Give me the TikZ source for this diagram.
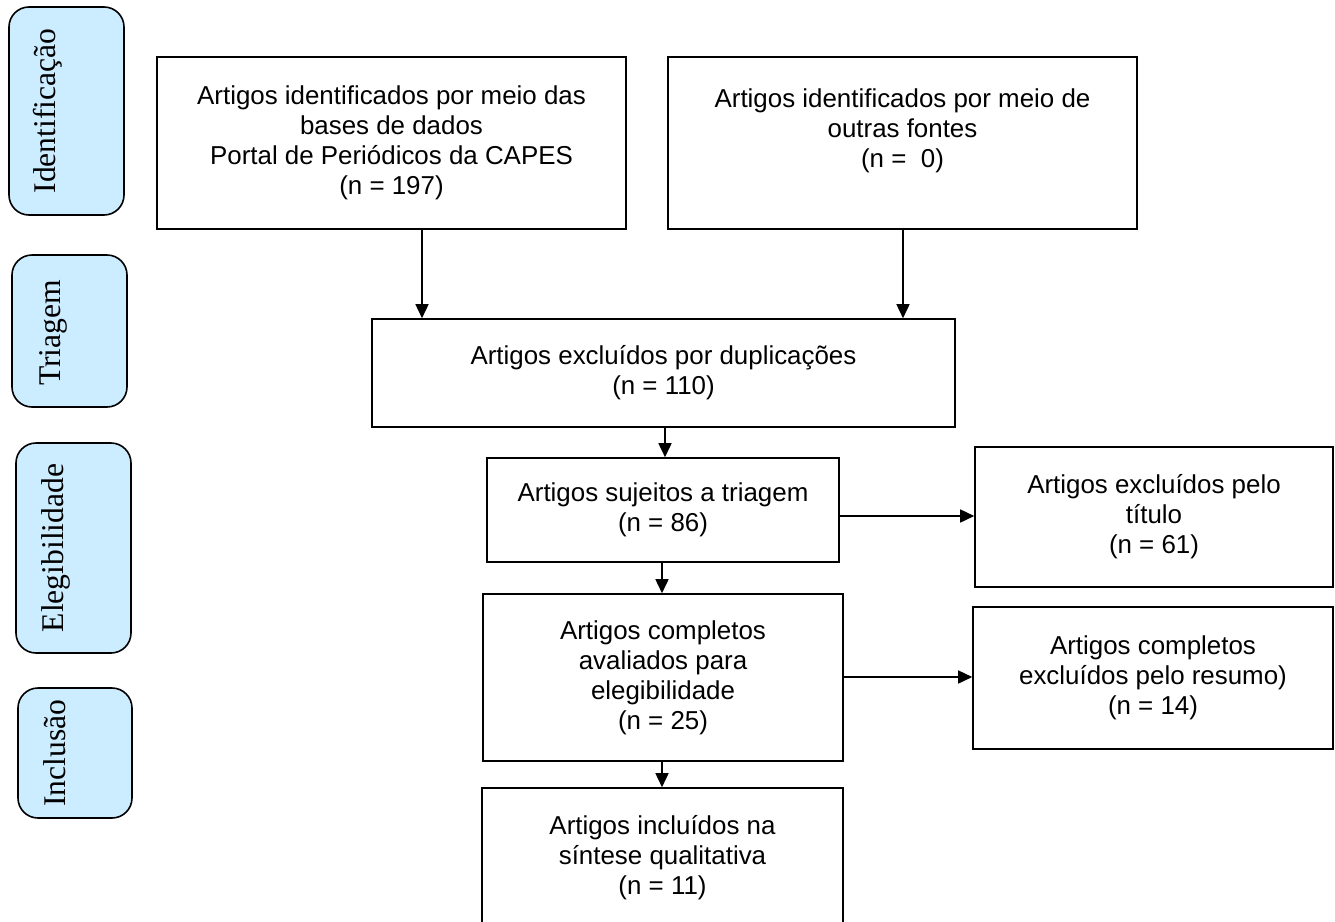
\documentclass[tikz,border=0pt]{standalone}
\usepackage{fontspec}
\setmainfont{Liberation Sans}
\newfontfamily\serifside{Liberation Serif}
\usetikzlibrary{arrows.meta}
\definecolor{sideblue}{HTML}{CCECFF}
\begin{document}
\begin{tikzpicture}[x=1pt,y=-1pt,
  box/.style={draw, line width=1.6pt, align=center, inner sep=0pt, font=\fontsize{25.9}{30}\selectfont},
  side/.style={draw, line width=1.6pt, fill=sideblue, rounded corners=20pt, inner sep=0pt},
  sidetxt/.style={rotate=90, anchor=base, font=\serifside\fontsize{31.6}{36}\selectfont, inner sep=0pt},
  arr/.style={line width=1.6pt, -{Triangle[length=14pt,width=13pt]}}]
\path[use as bounding box] (0,0) rectangle (1335,921);
\clip (0,0) rectangle (1335,921);
% side stage labels
\node[side, minimum width=115pt, minimum height=208pt] (s1) at (66.5,111) {};
\node[sidetxt] (t1) at (55,111) {Identificação};
\node[side, minimum width=115pt, minimum height=152pt] (s2) at (69.5,331) {};
\node[sidetxt] (t2) at (60,333) {Triagem};
\node[side, minimum width=115pt, minimum height=210pt] (s3) at (73.5,548) {};
\node[sidetxt] (t3) at (63,548) {Elegibilidade};
\node[side, minimum width=114pt, minimum height=130pt] (s4) at (75,753) {};
\node[sidetxt] (t4) at (65,753) {Inclusão};
% main boxes
\node[box, minimum width=469pt, minimum height=172pt] (b1) at (391.5,143)
  {Artigos identificados por meio das\\bases de dados\\Portal de Periódicos da CAPES\\(n = 197)};
\node[box, minimum width=469pt, minimum height=172pt] (b2) at (902.5,143)
  {Artigos identificados por meio de\\outras fontes\\(n =\ \ 0)\\\mbox{}};
\node[box, minimum width=583pt, minimum height=108pt] (b3) at (663.5,373)
  {Artigos excluídos por duplicações\\(n = 110)};
\node[box, minimum width=352pt, minimum height=104pt] (b4) at (663,510)
  {Artigos sujeitos a triagem\\(n = 86)};
\node[box, minimum width=360pt, minimum height=167pt] (b5) at (663,677.5)
  {Artigos completos\\avaliados para\\elegibilidade\\(n = 25)};
\node[box, minimum width=358pt, minimum height=140pt] (bA) at (1154,517)
  {Artigos excluídos pelo\\título\\(n = 61)};
\node[box, minimum width=360pt, minimum height=142pt] (bB) at (1153,678)
  {Artigos completos\\excluídos pelo resumo)\\(n = 14)};
\node[box, minimum width=361pt, minimum height=140pt] (b6) at (662.5,858)
  {Artigos incluídos na\\síntese qualitativa\\(n = 11)};
% connectors
\coordinate (xa) at (422,0);
\coordinate (xb) at (903,0);
\coordinate (xc) at (665,0);
\coordinate (xd) at (662,0);
\coordinate (ya) at (0,516);
\coordinate (yb) at (0,677);
\draw[arr] (b1.south -| xa) -- (b3.north -| xa);
\draw[arr] (b2.south -| xb) -- (b3.north -| xb);
\draw[arr] (b3.south -| xc) -- (b4.north -| xc);
\draw[arr] (b4.south -| xd) -- (b5.north -| xd);
\draw[arr] (b5.south -| xd) -- (b6.north -| xd);
\draw[arr] (b4.east |- ya) -- (bA.west |- ya);
\draw[arr] (b5.east |- yb) -- (bB.west |- yb);
\end{tikzpicture}
\end{document}
